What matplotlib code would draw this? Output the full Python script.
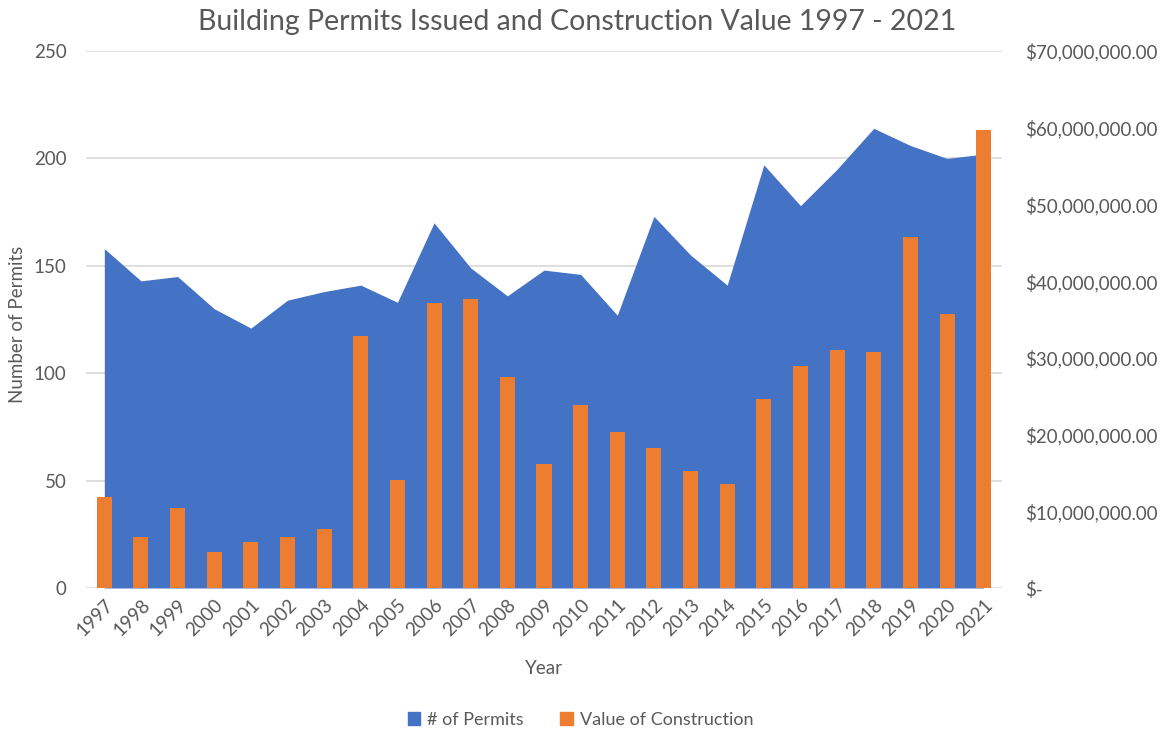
import numpy as np
import matplotlib.pyplot as plt
from matplotlib.ticker import FuncFormatter, MultipleLocator
from matplotlib.patches import Patch

years = [str(y) for y in range(1997, 2022)]
permits = [158, 143, 145, 130, 121, 134, 138, 141, 133, 170, 149, 136, 148, 146, 127,
           173, 155, 141, 197, 178, 195, 214, 206, 200, 202]
value_musd = [11.8, 6.7, 10.4, 4.7, 6.0, 6.6, 7.7, 32.9, 14.1, 37.2, 37.7, 27.5, 16.2, 23.9, 20.4,
              18.2, 15.3, 13.5, 24.6, 28.9, 31.0, 30.8, 45.8, 35.7, 59.7]

blue = "#4472C4"
orange = "#ED7D31"
txt = "#595959"
fs = 13.5
plt.rcParams['font.family'] = ['Lato', 'DejaVu Sans']

fig = plt.figure(figsize=(11.68, 7.31), dpi=100)
ax = fig.add_axes([86/1168, 1-588/731, (1002-86)/1168, (588-51)/731])
x = np.arange(len(years))

ax.fill_between(x, permits, 0, color=blue, linewidth=0, zorder=2)
ax.set_xlim(-0.5, len(years) - 0.5)
ax.set_ylim(0, 250)
ax.yaxis.set_major_locator(MultipleLocator(50))
ax.grid(axis='y', color='#D9D9D9', linewidth=1.2, zorder=0)
ax.set_axisbelow(True)
for s in ax.spines.values():
    s.set_visible(False)
ax.tick_params(axis='both', length=0, colors=txt, labelsize=fs)
ax.tick_params(axis='y', pad=14)
ax.tick_params(axis='x', pad=6)
ax.set_xticks(x)
ax.set_xticklabels(years, rotation=45, ha='right', rotation_mode='anchor')
ax.set_xlabel("Year", color=txt, fontsize=fs, labelpad=15)
fig.text(18/1168, 1-324/731, "Number of Permits", rotation=90, ha='center', va='center',
         color=txt, fontsize=fs)

ax2 = ax.twinx()
ax2.bar(x, np.array(value_musd) * 1e6, width=0.41, color=orange, zorder=3)
ax2.set_ylim(0, 70e6)
ax2.yaxis.set_major_locator(MultipleLocator(10e6))
ax2.yaxis.set_major_formatter(FuncFormatter(lambda v, p: "$-" if v == 0 else "${:,.2f}".format(v)))
for s in ax2.spines.values():
    s.set_visible(False)
ax2.tick_params(axis='y', length=0, colors=txt, labelsize=fs, pad=16.5)

fig.suptitle("Building Permits Issued and Construction Value 1997 - 2021", x=0.494, y=0.988,
             color=txt, fontsize=20.5)

handles = [Patch(color=blue), Patch(color=orange)]
fig.legend(handles, ["# of Permits", "Value of Construction"], loc='center', bbox_to_anchor=(0.497, 0.015),
           ncol=2, frameon=False, fontsize=13, labelcolor=txt, handlelength=0.7, handleheight=0.7,
           columnspacing=2.0, handletextpad=0.4)

fig.savefig("out.png", dpi=100)
